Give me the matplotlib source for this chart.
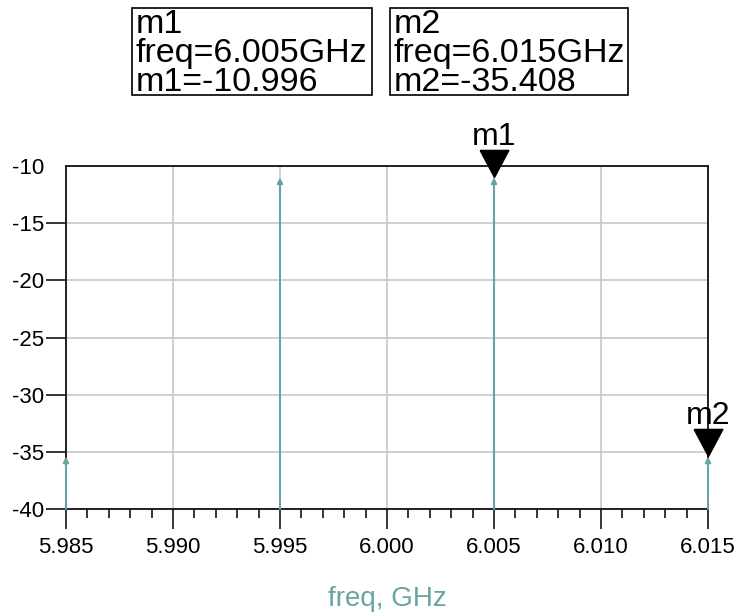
import matplotlib.pyplot as plt
from matplotlib.patches import Rectangle
from matplotlib.ticker import MultipleLocator

plt.rcParams['font.family'] = ['Liberation Sans', 'DejaVu Sans']
plt.rcParams['axes.unicode_minus'] = False

# data
freqs = [5.985, 5.995, 6.005, 6.015]
power = [-35.408, -10.996, -10.996, -35.408]
marker_names = ['m1', 'm2']
marker_idx = [2, 3]
xticks = [5.985, 5.990, 5.995, 6.000, 6.005, 6.010, 6.015]
yticks = [-40, -35, -30, -25, -20, -15, -10]

teal = '#67a4a4'

fig = plt.figure(figsize=(7.36, 6.16), dpi=100)
W, H = 736, 616
ax = fig.add_axes([66 / W, 1 - 509 / H, (708 - 66) / W, (509 - 166) / H])

ax.set_xlim(5.985, 6.015)
ax.set_ylim(-40, -10)
ax.set_xticks(xticks)
ax.set_xticklabels(['%.3f' % t for t in xticks])
ax.set_yticks(yticks)
ax.xaxis.set_minor_locator(MultipleLocator(0.001))
ax.grid(True, which='major', color='#c8c8c8', lw=1.2)
ax.set_axisbelow(True)
for s in ax.spines.values():
    s.set_linewidth(1.3)
    s.set_color('#111111')
ax.tick_params(axis='both', which='major', direction='out', length=14.5, width=1.1,
               labelsize=16)
ax.tick_params(axis='x', which='major', pad=6)
ax.tick_params(axis='y', which='major', pad=1)
ax.tick_params(axis='x', which='minor', direction='out', length=6.5, width=1.1)
ax.tick_params(axis='y', which='minor', length=0)
ax.yaxis.get_major_ticks()[-1].tick1line.set_visible(False)

# stems with small arrow heads
for f, p in zip(freqs, power):
    ax.annotate('', xy=(f, p), xytext=(f, -40),
                arrowprops=dict(arrowstyle='-|>', color=teal, lw=1.5,
                                mutation_scale=8, shrinkA=0, shrinkB=0),
                annotation_clip=False)

# marker triangles (tip on the data point)
tri = [(-0.53, 1.0), (0.53, 1.0), (0.0, 0.0), (-0.53, 1.0)]
for name, i in zip(marker_names, marker_idx):
    ax.plot(freqs[i], power[i], marker=tri, markersize=39, color='black',
            clip_on=False, zorder=5)
    ax.annotate(name, xy=(freqs[i], power[i]), xytext=(0, 23.5),
                textcoords='offset points', ha='center', va='baseline',
                fontsize=23, annotation_clip=False)

ax.set_xlabel('freq, GHz', color=teal, fontsize=20, labelpad=20)

# marker readout boxes
boxes = [(132, 372), (390, 628)]
for (x0, x1), name, i in zip(boxes, marker_names, marker_idx):
    fig.patches.append(Rectangle((x0 / W, 1 - 95 / H), (x1 - x0) / W, 87 / H,
                                 transform=fig.transFigure, fill=False,
                                 ec='black', lw=1.2))
    lines = [name, 'freq=%.3fGHz' % freqs[i], '%s=%.3f' % (name, power[i])]
    for txt, yb in zip(lines, [33, 62, 91]):
        fig.text((x0 + 4) / W, 1 - yb / H, txt, fontsize=24.5, va='baseline', ha='left')

fig.savefig('out.png', dpi=100)
